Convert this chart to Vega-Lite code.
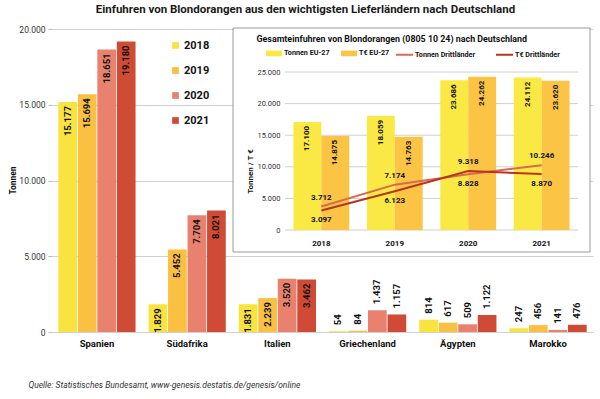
{
  "$schema": "https://vega.github.io/schema/vega-lite/v6.json",
  "width": 541,
  "height": 303,
  "autosize": {"type": "none"},
  "padding": {"left": 52, "top": 29, "right": 7, "bottom": 67},
  "background": "white",
  "config": {
    "locale": {"number": {"decimal": ",", "thousands": ".", "grouping": [3], "currency": ["", " €"]}},
    "font": "Roboto, sans-serif",
    "view": {"stroke": null}
  },
  "title": {
    "text": "Einfuhren von Blondorangen aus den wichtigsten Lieferländern nach Deutschland",
    "fontSize": 11.5,
    "fontWeight": "bold",
    "anchor": "middle",
    "frame": "group",
    "dx": -17,
    "offset": 10,
    "color": "#1a1a1a"
  },
  "datasets": {
    "haupt": [
      {"land": "Spanien", "jahr": "2018", "t": 15177},
      {"land": "Spanien", "jahr": "2019", "t": 15694},
      {"land": "Spanien", "jahr": "2020", "t": 18651},
      {"land": "Spanien", "jahr": "2021", "t": 19180},
      {"land": "Südafrika", "jahr": "2018", "t": 1829},
      {"land": "Südafrika", "jahr": "2019", "t": 5452},
      {"land": "Südafrika", "jahr": "2020", "t": 7704},
      {"land": "Südafrika", "jahr": "2021", "t": 8021},
      {"land": "Italien", "jahr": "2018", "t": 1831},
      {"land": "Italien", "jahr": "2019", "t": 2239},
      {"land": "Italien", "jahr": "2020", "t": 3520},
      {"land": "Italien", "jahr": "2021", "t": 3462},
      {"land": "Griechenland", "jahr": "2018", "t": 54},
      {"land": "Griechenland", "jahr": "2019", "t": 84},
      {"land": "Griechenland", "jahr": "2020", "t": 1437},
      {"land": "Griechenland", "jahr": "2021", "t": 1157},
      {"land": "Ägypten", "jahr": "2018", "t": 814},
      {"land": "Ägypten", "jahr": "2019", "t": 617},
      {"land": "Ägypten", "jahr": "2020", "t": 509},
      {"land": "Ägypten", "jahr": "2021", "t": 1122},
      {"land": "Marokko", "jahr": "2018", "t": 247},
      {"land": "Marokko", "jahr": "2019", "t": 456},
      {"land": "Marokko", "jahr": "2020", "t": 141},
      {"land": "Marokko", "jahr": "2021", "t": 476}
    ],
    "gesamt": [
      {"jahr": "2018", "serie": "Tonnen EU-27", "wert": 17100},
      {"jahr": "2019", "serie": "Tonnen EU-27", "wert": 18059},
      {"jahr": "2020", "serie": "Tonnen EU-27", "wert": 23686},
      {"jahr": "2021", "serie": "Tonnen EU-27", "wert": 24112},
      {"jahr": "2018", "serie": "T€ EU-27", "wert": 14875},
      {"jahr": "2019", "serie": "T€ EU-27", "wert": 14763},
      {"jahr": "2020", "serie": "T€ EU-27", "wert": 24262},
      {"jahr": "2021", "serie": "T€ EU-27", "wert": 23620},
      {"jahr": "2018", "serie": "Tonnen Drittländer", "wert": 3712},
      {"jahr": "2019", "serie": "Tonnen Drittländer", "wert": 7174},
      {"jahr": "2020", "serie": "Tonnen Drittländer", "wert": 8828},
      {"jahr": "2021", "serie": "Tonnen Drittländer", "wert": 10246},
      {"jahr": "2018", "serie": "T€ Drittländer", "wert": 3097},
      {"jahr": "2019", "serie": "T€ Drittländer", "wert": 6123},
      {"jahr": "2020", "serie": "T€ Drittländer", "wert": 9318},
      {"jahr": "2021", "serie": "T€ Drittländer", "wert": 8870}
    ],
    "raster": [{"g": 0}, {"g": 5000}, {"g": 10000}, {"g": 15000}, {"g": 20000}, {"g": 25000}]
  },
  "layer": [
    {
      "data": {"name": "haupt"},
      "encoding": {
        "x": {
          "field": "land", "type": "nominal", "sort": null,
          "scale": {"paddingInner": 0.144, "paddingOuter": 0.07},
          "axis": {
            "orient": "bottom", "ticks": false, "domain": false, "grid": false,
            "labelAngle": 0, "labelPadding": 6, "labelFontSize": 9.5, "labelFontWeight": "bold", "labelColor": "#111",
            "title": "Quelle: Statistisches Bundesamt, www-genesis.destatis.de/genesis/online",
            "titleFontStyle": "italic", "titleFontWeight": "normal", "titleFontSize": 8.5, "titleColor": "#333",
            "titleAnchor": "start", "titleAlign": "left", "titleX": -24, "titleY": 52, "titleBaseline": "middle"
          }
        },
        "y": {
          "field": "t", "type": "quantitative",
          "scale": {"domain": [0, 20000], "nice": false},
          "axis": {
            "orient": "left", "values": [0, 5000, 10000, 15000, 20000], "format": ",d",
            "domain": false, "gridColor": "#d0d0d0", "tickColor": "#bbbbbb", "tickSize": 4,
            "labelPadding": 3, "labelFontSize": 8.5, "labelColor": "#333",
            "title": "Tonnen", "titleFontSize": 8.5, "titleFontWeight": "bold", "titleColor": "#111",
            "titleX": -40, "titleY": 151, "titleBaseline": "middle", "titleAngle": -90
          }
        }
      },
      "layer": [
        {
          "mark": {"type": "bar"},
          "encoding": {
            "xOffset": {"field": "jahr", "type": "nominal", "scale": {"paddingInner": 0.04}},
            "color": {
              "field": "jahr", "type": "nominal",
              "scale": {"domain": ["2018", "2019", "2020", "2021"], "range": ["#f9e43f", "#f9c042", "#e8826f", "#cf4b35"]},
              "legend": {
                "orient": "none", "legendX": 118, "legendY": 11, "title": null,
                "symbolType": "square", "symbolSize": 45, "symbolStrokeWidth": 0,
                "labelFontSize": 11, "labelFontWeight": "bold", "labelColor": "#111",
                "rowPadding": 13, "labelOffset": 3
              }
            }
          }
        },
        {
          "transform": [{"filter": "datum.t > 1700"}],
          "mark": {"type": "text", "angle": 270, "align": "right", "baseline": "middle", "dx": -4, "fontWeight": "bold", "fontSize": 9.5, "color": "#111"},
          "encoding": {
            "xOffset": {"field": "jahr", "type": "nominal"},
            "text": {"field": "t", "type": "quantitative", "format": ",d"}
          }
        },
        {
          "transform": [{"filter": "datum.t <= 1700"}],
          "mark": {"type": "text", "angle": 270, "align": "left", "baseline": "middle", "dx": 6, "fontWeight": "bold", "fontSize": 9.5, "color": "#111"},
          "encoding": {
            "xOffset": {"field": "jahr", "type": "nominal"},
            "text": {"field": "t", "type": "quantitative", "format": ",d"}
          }
        }
      ]
    },
    {
      "data": {"values": [{"box": "inset"}]},
      "mark": {"type": "rect", "fill": "white", "stroke": "#9a9a9a", "strokeWidth": 1},
      "encoding": {
        "x": {"datum": 0, "type": "quantitative", "scale": {"domain": [0, 1], "range": [181, 538], "nice": false, "zero": false}, "axis": null},
        "x2": {"datum": 1},
        "y": {"datum": 0, "type": "quantitative", "scale": {"domain": [0, 1], "range": [223, -1], "nice": false, "zero": false}, "axis": null},
        "y2": {"datum": 1}
      }
    },
    {
      "layer": [
        {
          "data": {"name": "raster"},
          "mark": {"type": "rule", "color": "#d0d0d0", "strokeWidth": 1},
          "encoding": {
            "x": {"datum": 0, "type": "quantitative", "scale": {"domain": [0, 1], "range": [233, 526], "nice": false, "zero": false}, "axis": null},
            "x2": {"datum": 1},
            "y": {"field": "g", "type": "quantitative", "scale": {"domain": [0, 25000], "range": [201, 43], "nice": false}}
          }
        },
        {
          "data": {"name": "gesamt"},
          "encoding": {
            "x": {
              "field": "jahr", "type": "nominal",
              "scale": {"domain": ["2018", "2019", "2020", "2021"], "range": [233, 526], "paddingInner": 0.24, "paddingOuter": 0.115},
              "axis": {
                "orient": "bottom", "offset": -102, "ticks": false, "domain": false, "grid": false,
                "labelPadding": 9, "labelFontSize": 8, "labelFontWeight": "bold", "labelColor": "#111", "labelAngle": 0,
                "zindex": 2,
                "title": "Gesamteinfuhren von Blondorangen (0805 10 24) nach Deutschland",
                "titleFontSize": 8.9, "titleFontWeight": "bold", "titleColor": "#111",
                "titleAnchor": "start", "titleAlign": "left", "titleX": 204, "titleY": -192, "titleBaseline": "middle"
              }
            },
            "y": {
              "field": "wert", "type": "quantitative",
              "scale": {"domain": [0, 25000], "range": [201, 43], "nice": false},
              "axis": {
                "orient": "left", "offset": -232, "ticks": false, "domain": false, "grid": false,
                "values": [0, 5000, 10000, 15000, 20000, 25000], "format": ",d",
                "labelPadding": 4, "labelFontSize": 7.5, "labelColor": "#333", "zindex": 2,
                "title": "Tonnen / T €", "titleFontSize": 8, "titleFontWeight": "bold", "titleColor": "#111",
                "titleX": -34, "titleY": 142, "titleBaseline": "middle", "titleAngle": -90
              }
            }
          },
          "layer": [
            {
              "transform": [{"filter": "indexof(datum.serie, 'EU') >= 0"}],
              "mark": {"type": "bar"},
              "encoding": {
                "xOffset": {"field": "serie", "type": "nominal", "scale": {"domain": ["Tonnen EU-27", "T€ EU-27"], "paddingInner": 0}},
                "fill": {
                  "field": "serie", "type": "nominal",
                  "scale": {"domain": ["Tonnen EU-27", "T€ EU-27"], "range": ["#fae845", "#fbc444"]},
                  "legend": {
                    "orient": "none", "legendX": 214, "legendY": 16, "direction": "horizontal", "title": null,
                    "symbolType": "M-1,-0.35H1V0.35H-1Z", "symbolSize": 256, "symbolStrokeWidth": 0,
                    "labelFontSize": 7.2, "labelFontWeight": "bold", "labelColor": "#111", "labelOffset": 2, "columnPadding": 11
                  }
                }
              }
            },
            {
              "transform": [{"filter": "indexof(datum.serie, 'EU') >= 0"}],
              "mark": {"type": "text", "angle": 270, "align": "right", "baseline": "middle", "dx": -4, "fontWeight": "bold", "fontSize": 8, "color": "#111"},
              "encoding": {
                "xOffset": {"field": "serie", "type": "nominal"},
                "text": {"field": "wert", "type": "quantitative", "format": ",d"}
              }
            },
            {
              "transform": [{"filter": "indexof(datum.serie, 'Dritt') >= 0"}],
              "mark": {"type": "line", "strokeWidth": 2},
              "encoding": {
                "stroke": {
                  "field": "serie", "type": "nominal",
                  "scale": {"domain": ["Tonnen Drittländer", "T€ Drittländer"], "range": ["#d76a4f", "#b8341f"]},
                  "legend": {
                    "orient": "none", "legendX": 343, "legendY": 16, "direction": "horizontal", "title": null,
                    "symbolType": "stroke", "symbolSize": 289, "symbolStrokeWidth": 2,
                    "labelFontSize": 7.2, "labelFontWeight": "bold", "labelColor": "#111", "labelOffset": 1, "columnPadding": 16
                  }
                }
              }
            },
            {
              "transform": [{"filter": "(datum.serie == 'Tonnen Drittländer' && datum.jahr != '2020') || (datum.serie == 'T€ Drittländer' && datum.jahr == '2020')"}],
              "mark": {"type": "text", "baseline": "middle", "align": "center", "dy": -9, "fontWeight": "bold", "fontSize": 8, "color": "#111"},
              "encoding": {"text": {"field": "wert", "type": "quantitative", "format": ",d"}}
            },
            {
              "transform": [{"filter": "(datum.serie == 'T€ Drittländer' && datum.jahr != '2020') || (datum.serie == 'Tonnen Drittländer' && datum.jahr == '2020')"}],
              "mark": {"type": "text", "baseline": "middle", "align": "center", "dy": 10, "fontWeight": "bold", "fontSize": 8, "color": "#111"},
              "encoding": {"text": {"field": "wert", "type": "quantitative", "format": ",d"}}
            }
          ]
        }
      ],
      "resolve": {"scale": {"x": "independent"}}
    }
  ],
  "resolve": {"scale": {"x": "independent", "y": "independent", "xOffset": "independent", "color": "independent"}}
}
